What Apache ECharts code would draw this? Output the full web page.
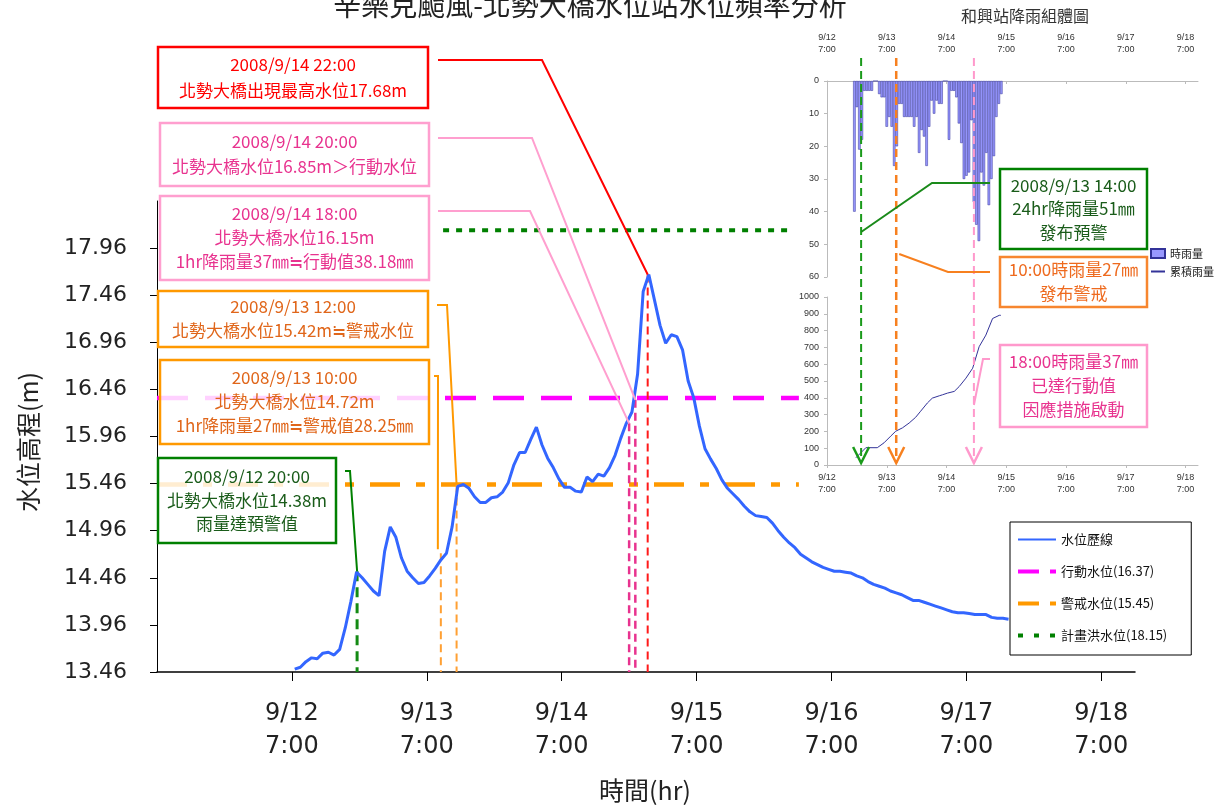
<!DOCTYPE html>
<html>
<head>
<meta charset="utf-8">
<title>辛樂克颱風-北勢大橋水位站水位頻率分析</title>
<script src="https://cdn.jsdelivr.net/npm/echarts@6/dist/echarts.min.js"></script>
<style>
  html, body { margin: 0; padding: 0; background: #fff; }
  #chart { width: 1217px; height: 806px; }
</style>
</head>
<body>
<div id="chart"></div>
<script>
const CJK = '"Noto Sans CJK TC", "Noto Sans", sans-serif'

// 北勢大橋 hourly stage (m), hours counted from 9/12 7:00
const levelStartHour = 0.5
const levelValues = [
  13.49, 13.51, 13.57, 13.61, 13.60, 13.66, 13.67, 13.64, 13.70, 13.93,
  14.21, 14.52, 14.46, 14.39, 14.32, 14.27, 14.74, 15.00, 14.89, 14.67,
  14.53, 14.46, 14.40, 14.41, 14.48, 14.56, 14.65, 14.72, 15.00, 15.43,
  15.45, 15.41, 15.32, 15.26, 15.26, 15.31, 15.32, 15.37, 15.47, 15.66,
  15.79, 15.79, 15.93, 16.06, 15.87, 15.73, 15.63, 15.51, 15.42, 15.42,
  15.38, 15.37, 15.53, 15.48, 15.56, 15.54, 15.63, 15.76, 15.94, 16.10,
  16.22, 16.62, 17.50, 17.68, 17.41, 17.14, 16.95, 17.04, 17.02, 16.88,
  16.55, 16.37, 16.07, 15.83, 15.72, 15.62, 15.50, 15.41, 15.35, 15.29,
  15.22, 15.16, 15.12, 15.11, 15.10, 15.04, 14.96, 14.89, 14.83, 14.78,
  14.71, 14.67, 14.63, 14.60, 14.57, 14.55, 14.53, 14.53, 14.52, 14.51,
  14.48, 14.46, 14.42, 14.39, 14.37, 14.35, 14.32, 14.30, 14.28, 14.25,
  14.22, 14.22, 14.20, 14.18, 14.16, 14.14, 14.12, 14.10, 14.09, 14.09,
  14.08, 14.07, 14.07, 14.07, 14.04, 14.03, 14.03, 14.02
]
const actionLevel = 16.37
const warnLevel = 15.45
const floodLevel = 18.15

const dayLabels = ['9/12', '9/13', '9/14', '9/15', '9/16', '9/17', '9/18']
const yTicks = [13.46, 13.96, 14.46, 14.96, 15.46, 15.96, 16.46, 16.96, 17.46, 17.96]

// points on the stage line where the notes point to
const eventHours = [11.6, 26.5, 29.3, 60.0, 61.1, 63.3]
const eventLevels = [14.53, 14.72, 15.45, 16.10, 16.35, 17.68]

// 和興站 hourly rain (mm), first bar 9/12 18:00
const rainStartHour = 11
const rainHourly = [
  40, 8, 21, 18, 3, 3, 3, 3, 0, 0,
  4, 5, 5, 14, 11, 14, 26, 20, 7, 7, 11, 11, 11, 11, 14, 11, 22, 15, 17, 26, 14, 6, 10, 6, 7, 7,
  0, 0,
  18, 3, 3, 5, 13, 19, 30, 29, 28, 12, 37, 44, 49, 28, 32, 22, 38, 30, 23, 11, 7, 4
]
const cumHours = [11.6, 13.6, 15.6, 20.2, 22.9, 25.6, 27.6, 30.3, 33.0, 35.6, 37.6, 40.3, 42.3, 45.1, 46.4, 48.4, 51.1, 53.1, 55.8, 58.5, 61.1, 63.8, 66.5, 69.2, 69.8]
const cumRain = [43, 73, 103, 103, 132, 172, 201, 221, 250, 284, 320, 369, 398, 412, 418, 428, 438, 467, 517, 576, 704, 773, 872, 891, 891]
const insetEventHours = [13.7, 27.8, 59.0]

const dayTicks = dayLabels.map((d, i) => i * 24)
const dayFmt = v => dayLabels[Math.round(v / 24)] + '\n7:00'

const chart = echarts.init(document.getElementById('chart'))

function drop(i, color, width, dash) {
  return {
    type: 'line', xAxisIndex: 0, yAxisIndex: 0, silent: true, symbol: 'none', z: 3,
    lineStyle: { color: color, width: width, type: dash },
    data: [[eventHours[i], eventLevels[i]], [eventHours[i], yTicks[0]]]
  }
}

const option = {
  animation: false,
  backgroundColor: '#fff',
  grid: [
    { left: 157, right: 82, top: 201, bottom: 134 },
    { left: 827, top: 81, width: 371, height: 196 },
    { left: 827, top: 297, width: 371, height: 168 }
  ],
  xAxis: [
    {
      gridIndex: 0, type: 'value', min: -24, max: 150,
      axisLine: { onZero: false, lineStyle: { color: '#000', width: 1.5 } },
      axisTick: { customValues: dayTicks, length: 9, lineStyle: { color: '#000' } },
      axisLabel: { customValues: dayTicks, formatter: dayFmt, fontSize: 24, lineHeight: 33, margin: 25, color: '#222', fontFamily: 'DejaVu Sans' },
      splitLine: { show: false }
    },
    {
      gridIndex: 1, type: 'value', min: 0, max: 149, position: 'top',
      axisLine: { onZero: false, lineStyle: { color: '#bbb' } },
      axisTick: { customValues: dayTicks, length: 3, inside: true, lineStyle: { color: '#bbb' } },
      axisLabel: { customValues: dayTicks, formatter: dayFmt, fontSize: 9, lineHeight: 12, margin: 25, color: '#333', fontFamily: 'Liberation Sans' },
      splitLine: { show: false }
    },
    {
      gridIndex: 2, type: 'value', min: 0, max: 149,
      axisLine: { onZero: false, lineStyle: { color: '#bbb' } },
      axisTick: { customValues: dayTicks, length: 3, lineStyle: { color: '#bbb' } },
      axisLabel: { customValues: dayTicks, formatter: dayFmt, fontSize: 9, lineHeight: 12, margin: 7, color: '#333', fontFamily: 'Liberation Sans' },
      splitLine: { show: false }
    }
  ],
  yAxis: [
    {
      gridIndex: 0, type: 'value', min: 13.46, max: 18.46,
      axisLine: { show: true, onZero: false, lineStyle: { color: '#000', width: 1 } },
      axisTick: { show: true, customValues: yTicks, length: 7, lineStyle: { color: '#000' } },
      axisLabel: { customValues: yTicks, formatter: v => v.toFixed(2), fontSize: 22, margin: 30, color: '#222', fontFamily: 'DejaVu Sans' },
      splitLine: { show: false }
    },
    {
      gridIndex: 1, type: 'value', min: 0, max: 60, interval: 10, inverse: true,
      axisLine: { show: true, onZero: false, lineStyle: { color: '#bbb' } },
      axisTick: { show: true, length: 3, lineStyle: { color: '#bbb' } },
      axisLabel: { fontSize: 9, margin: 8, color: '#333', fontFamily: 'Liberation Sans' },
      splitLine: { show: false }
    },
    {
      gridIndex: 2, type: 'value', min: 0, max: 1000, interval: 100,
      axisLine: { show: true, onZero: false, lineStyle: { color: '#bbb' } },
      axisTick: { show: true, length: 3, lineStyle: { color: '#bbb' } },
      axisLabel: { formatter: v => String(v), fontSize: 9, margin: 8, color: '#333', fontFamily: 'Liberation Sans' },
      splitLine: { show: false }
    }
  ],
  legend: [
    {
      data: [
        { name: '水位歷線', lineStyle: { width: 2 } },
        { name: '行動水位(16.37)', lineStyle: { width: 4, type: [21, 11] } },
        { name: '警戒水位(15.45)', lineStyle: { width: 4, type: [21, 11, 6, 11] } },
        { name: '計畫洪水位(18.15)', lineStyle: { width: 4, type: [5, 11] } }
      ],
      orient: 'vertical', left: 1010, top: 522,
      itemWidth: 38, itemHeight: 14, itemGap: 19,
      padding: [11, 24, 13, 6],
      itemStyle: { opacity: 0 },
      borderColor: '#000', borderWidth: 1, backgroundColor: '#fff', borderRadius: 0,
      textStyle: { fontSize: 13, color: '#111', fontFamily: CJK }
    },
    {
      data: [{ name: '時雨量', icon: 'rect' }, { name: '累積雨量', itemStyle: { opacity: 0 } }],
      orient: 'vertical', left: 1150, top: 248,
      itemWidth: 14, itemHeight: 9, itemGap: 7, padding: 0,
      textStyle: { fontSize: 11, color: '#222', fontFamily: CJK }
    }
  ],
  series: [
    {
      name: '水位歷線', type: 'line', xAxisIndex: 0, yAxisIndex: 0, z: 5,
      showSymbol: false, symbol: 'none',
      lineStyle: { color: '#3366ff', width: 3 }, itemStyle: { color: '#3366ff' },
      data: levelValues.map((v, i) => [levelStartHour + i, v])
    },
    {
      name: '行動水位(16.37)', type: 'line', xAxisIndex: 0, yAxisIndex: 0, symbol: 'none',
      lineStyle: { color: '#ff00ff', width: 4.5, type: [31, 17] }, itemStyle: { color: '#ff00ff' },
      data: [[-24, actionLevel], [90.2, actionLevel]]
    },
    {
      name: '警戒水位(15.45)', type: 'line', xAxisIndex: 0, yAxisIndex: 0, symbol: 'none',
      lineStyle: { color: '#ff9900', width: 4.5, type: [30, 16, 9, 16] }, itemStyle: { color: '#ff9900' },
      data: [[-24, warnLevel], [90.2, warnLevel]]
    },
    {
      name: '計畫洪水位(18.15)', type: 'line', xAxisIndex: 0, yAxisIndex: 0, symbol: 'none',
      lineStyle: { color: '#008000', width: 4, type: [6, 7] }, itemStyle: { color: '#008000' },
      data: [[26.9, floodLevel], [88.5, floodLevel]]
    },
    drop(0, '#138a13', 3, [10, 6]),
    drop(1, '#ffa033', 2, [8, 5]),
    drop(2, '#ffa033', 2, [8, 5]),
    drop(3, '#e8338f', 2.5, [8, 5]),
    drop(4, '#e8338f', 2.5, [8, 5]),
    drop(5, '#ff1a1a', 2, [8, 5]),
    {
      name: '時雨量', type: 'bar', xAxisIndex: 1, yAxisIndex: 1, barWidth: 2.5,
      itemStyle: { color: '#9999ff', borderColor: '#333399', borderWidth: 0.5 },
      data: rainHourly.map((v, i) => [rainStartHour + i, v])
    },
    {
      name: '累積雨量', type: 'line', xAxisIndex: 2, yAxisIndex: 2, symbol: 'none',
      lineStyle: { color: '#333399', width: 1 }, itemStyle: { color: '#333399' },
      data: cumHours.map((h, i) => [h, cumRain[i]])
    }
  ]
}
chart.setOption(option)

// notes, connectors and arrows (placed after the axes exist)
const P = i => chart.convertToPixel({ xAxisIndex: 0, yAxisIndex: 0 }, [eventHours[i], eventLevels[i]])
const IX = h => chart.convertToPixel({ xAxisIndex: 1 }, h)

function box(x, y, w, h, stroke, color, lines, lh) {
  return [
    { type: 'rect', z: 100, shape: { x: x, y: y, width: w, height: h },
      style: { fill: 'rgba(255,255,255,0.82)', stroke: stroke, lineWidth: 2.5 } },
    { type: 'text', z: 101, x: x + w / 2, y: y + h / 2,
      style: { text: lines.join('\n'), fill: color, font: '17px ' + CJK, align: 'center', verticalAlign: 'middle', lineHeight: lh } }
  ]
}
function poly(points, color, width) {
  return { type: 'polyline', z: 99, shape: { points: points }, style: { stroke: color, lineWidth: width || 2, fill: null } }
}
function vdash(x, y1, y2, color, width) {
  return { type: 'line', z: 99, shape: { x1: x, y1: y1, x2: x, y2: y2 }, style: { stroke: color, lineWidth: width, lineDash: [8, 5] } }
}
function arrow(x, color) {
  return poly([[x - 8, 447], [x, 463], [x + 8, 447]], color, 2.5)
}

const red = '#ff0000', pinkT = '#e8338f', pinkB = '#ff9fcf', orT = '#e0661a', orB = '#ff9900', grT = '#1a5c1a', grB = '#008000'
const pg = P(0), po1 = P(1), po2 = P(2), pp1 = P(3), pp2 = P(4), pr = P(5)
const xg = IX(insetEventHours[0]), xo = IX(insetEventHours[1]), xp = IX(insetEventHours[2])

let g = []
g.push({ type: 'text', z: 101, x: 590, y: 19, style: { text: '辛樂克颱風-北勢大橋水位站水位頻率分析', fill: '#222', font: '28px ' + CJK, align: 'center', verticalAlign: 'bottom' } })
g.push({ type: 'text', z: 101, x: 1025, y: 16, style: { text: '和興站降雨組體圖', fill: '#333', font: '16px ' + CJK, align: 'center', verticalAlign: 'middle' } })
g.push({ type: 'text', z: 101, x: 645, y: 790, style: { text: '時間(hr)', fill: '#222', font: '25px ' + CJK, align: 'center', verticalAlign: 'middle' } })
g.push({ type: 'text', z: 101, x: 28, y: 442, rotation: Math.PI / 2, style: { text: '水位高程(m)', fill: '#222', font: '25px ' + CJK, align: 'center', verticalAlign: 'middle' } })

// main chart notes
g = g.concat(box(158, 47, 270, 61, red, red, ['2008/9/14 22:00', '北勢大橋出現最高水位17.68m'], 26))
g = g.concat(box(160, 123, 269, 63, pinkB, pinkT, ['2008/9/14 20:00', '北勢大橋水位16.85m＞行動水位'], 25))
g = g.concat(box(160, 196, 269, 84, pinkB, pinkT, ['2008/9/14 18:00', '北勢大橋水位16.15m', '1hr降雨量37㎜≒行動值38.18㎜'], 24))
g = g.concat(box(158, 291, 270, 56, orB, orT, ['2008/9/13 12:00', '北勢大橋水位15.42m≒警戒水位'], 24))
g = g.concat(box(160, 360, 269, 84, orB, orT, ['2008/9/13 10:00', '北勢大橋水位14.72m', '1hr降雨量27㎜≒警戒值28.25㎜'], 24))
g = g.concat(box(158, 458, 178, 85, grB, grT, ['2008/9/12 20:00', '北勢大橋水位14.38m', '雨量達預警值'], 23.5))

g.push(poly([[438, 60], [542, 60], pr], red))
g.push(poly([[438, 138], [532, 138], pp2], pinkB))
g.push(poly([[438, 211], [530, 211], pp1], pinkB))
g.push(poly([[437, 305], [447, 305], po2], orB))
g.push(poly([[434, 376], [438, 376], [po1[0] - 3, po1[1] - 4]], orB))
g.push(poly([[345, 471], [350, 471], pg], grB))

// inset notes
g.push(vdash(xg, 58, 462, '#1a9a1a', 2))
g.push(vdash(xo, 58, 463, '#f7801f', 2.5))
g.push(vdash(xp, 58, 464, '#ff99cc', 2))
g.push(arrow(xg, '#1a9a1a'), arrow(xo, '#f7801f'), arrow(xp, '#ff99cc'))
g.push(poly([[xg, 232], [932, 183], [990, 183]], '#1a8a1a'))
g.push(poly([[xo + 3, 254], [948, 272], [990, 272]], '#f7801f'))
g.push(poly([[xp, 405], [983, 359], [990, 359]], '#ff99cc'))
g = g.concat(box(1000, 169, 147, 80, grB, grT, ['2008/9/13 14:00', '24hr降雨量51㎜', '發布預警'], 23.5))
g = g.concat(box(1000, 257, 147, 50, '#f7862f', '#ee6a1e', ['10:00時雨量27㎜', '發布警戒'], 24))
g = g.concat(box(1000, 345, 147, 82, '#ff99cc', pinkT, ['18:00時雨量37㎜', '已達行動值', '因應措施啟動'], 24))

chart.setOption({ graphic: g })
</script>
</body>
</html>
